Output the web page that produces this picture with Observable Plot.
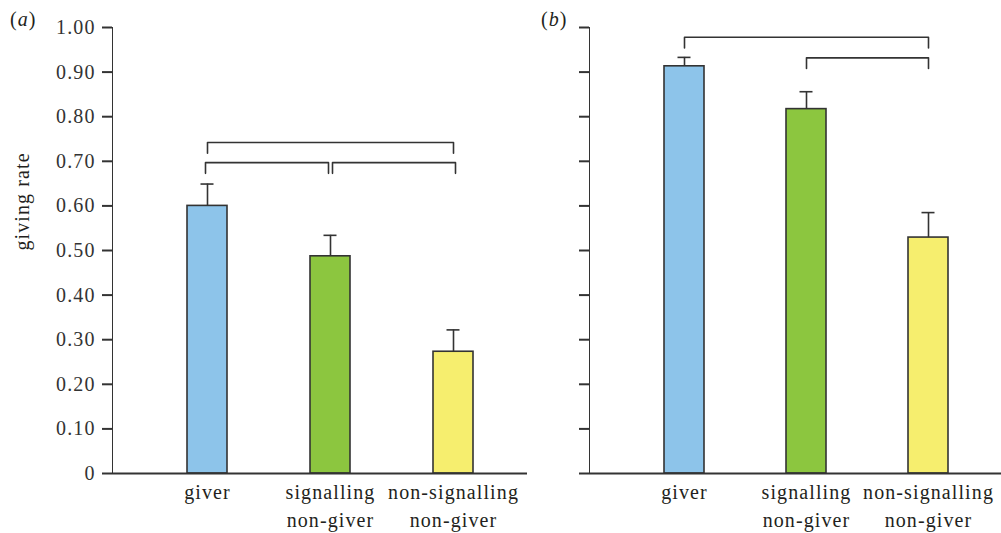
<!DOCTYPE html>
<html><head><meta charset="utf-8">
<script src="https://cdn.jsdelivr.net/npm/d3@7"></script>
<script src="https://cdn.jsdelivr.net/npm/@observablehq/plot@0.6"></script>
<style>
body{margin:0;background:#fff;}
#wrap{position:relative;width:1001px;height:533px;overflow:hidden;font-family:"Liberation Serif",serif;color:#231f20}
.panel{position:absolute;top:0}
.tag{position:absolute;top:9px;font-size:20px;line-height:1;letter-spacing:1px}
#wrap svg text{letter-spacing:1.1px}
svg [aria-label^="y-axis"]{stroke-width:2px}
</style></head><body>
<div id="wrap">
<div class="tag" style="left:10px">(<i>a</i>)</div>
<div class="tag" style="left:541px">(<i>b</i>)</div>
<div id="pa" class="panel" style="left:0"></div>
<div id="pb" class="panel" style="left:530px"></div>
</div>
<script>
const categories = ["giver", "signalling\nnon-giver", "non-signalling\nnon-giver"];
const barColors = ["#8dc4ea", "#8cc63f", "#f6ee6e"];
const yTicks = [0, 0.1, 0.2, 0.3, 0.4, 0.5, 0.6, 0.7, 0.8, 0.9, 1.0];
const yLabel = "giving rate";

// panel (a)
const ratesA = [0.600, 0.487, 0.273];
const errorsA = [0.049, 0.047, 0.049];
const bracketFromA = [0, 0, 1];
const bracketToA = [2, 1, 2];
const bracketLevelA = [0.742, 0.697, 0.697];

// panel (b)
const ratesB = [0.913, 0.817, 0.529];
const errorsB = [0.020, 0.039, 0.056];
const bracketFromB = [0, 1];
const bracketToB = [2, 2];
const bracketLevelB = [0.978, 0.932];

const ink = "#333333";

function panel(rates, errors, bFrom, bTo, bLevel, opt) {
  const data = categories.map((c, i) => ({cat: c, rate: rates[i], upper: rates[i] + errors[i]}));
  const bracketMarks = bFrom.map((f, i) => {
    const lvl = bLevel[i];
    const pts = [
      {x: categories[f], y: lvl - 0.024},
      {x: categories[f], y: lvl},
      {x: categories[bTo[i]], y: lvl},
      {x: categories[bTo[i]], y: lvl - 0.024}
    ];
    let dx = 0;
    bFrom.forEach((f2, j) => {
      if (j !== i && bLevel[j] === lvl) {
        if (bTo[j] === f) dx = 2;
        if (f2 === bTo[i]) dx = -2;
      }
    });
    return Plot.line(pts, {x: "x", y: "y", stroke: ink, strokeWidth: 1.6, dx});
  });
  return Plot.plot({
    width: opt.width,
    height: 533,
    marginLeft: opt.marginLeft,
    marginRight: opt.marginRight,
    marginTop: 27,
    marginBottom: 60,
    style: {fontFamily: "'Liberation Serif', serif", fontSize: "20px", color: ink, background: "transparent", overflow: "visible"},
    x: {type: "band", domain: categories, paddingInner: 0.674, paddingOuter: 0.52, align: 0.585, axis: null},
    y: {
      domain: [0, 1], ticks: yTicks,
      tickFormat: opt.labels ? (d => d === 0 ? "0" : d3.format(".2f")(d)) : (() => ""),
      tickSize: 10, tickPadding: 7, label: null, line: true
    },
    color: {domain: categories, range: barColors},
    marks: [
      Plot.barY(data, {x: "cat", y: "rate", fill: "cat", stroke: ink, strokeWidth: 1.6}),
      Plot.ruleX(data, {x: "cat", y1: "rate", y2: "upper", stroke: ink, strokeWidth: 1.6}),
      Plot.tickY(data, {x: "cat", y: "upper", insetLeft: 13.5, insetRight: 13.5, stroke: ink, strokeWidth: 1.6}),
      ...bracketMarks,
      Plot.ruleY([0], {stroke: ink, strokeWidth: 2}),
      Plot.text(categories, {x: d => d, text: d => d, frameAnchor: "bottom", lineAnchor: "top", dy: 6, lineHeight: 1.4, fill: "#231f20"}),
      opt.labels ? Plot.text([yLabel], {text: d => d, frameAnchor: "left", dx: -90, rotate: -90, fill: "#231f20"}) : null
    ]
  });
}

document.getElementById("pa").append(panel(ratesA, errorsA, bracketFromA, bracketToA, bracketLevelA, {width: 530, marginLeft: 112, marginRight: 3, labels: true}));
document.getElementById("pb").append(panel(ratesB, errorsB, bracketFromB, bracketToB, bracketLevelB, {width: 471, marginLeft: 59, marginRight: 0, labels: false}));
</script>
</body></html>
